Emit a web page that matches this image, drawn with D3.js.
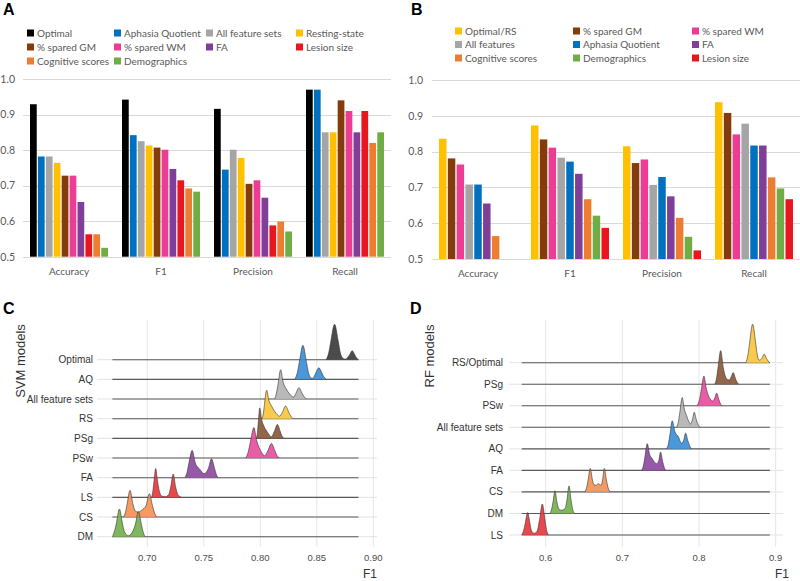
<!DOCTYPE html>
<meta charset="utf-8">
<style>
body { margin: 0; background: #fff; }
svg { display: block; }
.xl text, .yl text, .lg text { font-family: Lato, "Open Sans", sans-serif; font-size: 10px; fill: #595959; }
.yl text { font-size: 10.5px; }
.gg text { font-family: "Liberation Sans", Arial, sans-serif; }
.letter { font-family: "Liberation Sans", Arial, sans-serif; font-weight: bold; font-size: 16px; fill: #000; }
</style>
<svg width="800" height="581"></svg>
<script src="https://cdn.jsdelivr.net/npm/d3@7"></script>
<script>

var metrics = ["Accuracy", "F1", "Precision", "Recall"];

// panel A : SVM
var seriesA = ["Optimal", "Aphasia Quotient", "All feature sets", "Resting-state", "% spared GM",
               "% spared WM", "FA", "Lesion size", "Cognitive scores", "Demographics"];
var colorsA = ["#000000", "#0070C0", "#A5A5A5", "#FFC000", "#843C0C",
               "#EA3D93", "#7F3F98", "#E8161F", "#ED7D31", "#70AD47"];
var valuesA = [
  [0.929, 0.782, 0.782, 0.764, 0.728, 0.728, 0.654, 0.563, 0.563, 0.525],  // Accuracy
  [0.942, 0.842, 0.825, 0.813, 0.807, 0.801, 0.747, 0.715, 0.692, 0.683],  // F1
  [0.916, 0.745, 0.801, 0.778, 0.705, 0.715, 0.666, 0.588, 0.599, 0.571],  // Precision
  [0.970, 0.970, 0.850, 0.850, 0.940, 0.910, 0.850, 0.910, 0.820, 0.850]   // Recall
];

// panel B : RF
var seriesB = ["Optimal/RS", "% spared GM", "% spared WM", "All features", "Aphasia Quotient",
               "FA", "Cognitive scores", "Demographics", "Lesion size"];
var colorsB = ["#FFC000", "#843C0C", "#EA3D93", "#A5A5A5", "#0070C0",
               "#7F3F98", "#ED7D31", "#70AD47", "#E8161F"];
var valuesB = [
  [0.836, 0.781, 0.764, 0.708, 0.708, 0.655, 0.564, null, null],
  [0.873, 0.834, 0.811, 0.783, 0.772, 0.738, 0.667, 0.621, 0.587],
  [0.815, 0.768, 0.778, 0.707, 0.729, 0.675, 0.615, 0.562, 0.524],
  [0.938, 0.908, 0.848, 0.878, 0.817, 0.817, 0.728, 0.697, 0.667]
];

// panel C : SVM F1 distributions  [F1, scaled density]
var svmModels = ["Optimal", "AQ", "All feature sets", "RS", "PSg", "PSw", "FA", "LS", "CS", "DM"];
var svmColors = ["#3c3c3c", "#3b8ed6", "#b3b3b3", "#f9c53c", "#8a583a", "#e64f9d", "#8d4b9f", "#e73a3e", "#f39356", "#76b14e"];
var svmDensity = [
  [[0.8583,0],[0.8606,0.36],[0.8623,0.90],[0.8657,1.80],[0.8691,0.90],[0.8708,0.36],[0.8732,0.06],[0.8754,0.03],[0.8788,0.23],[0.8813,0.46],[0.8838,0.23],[0.8852,0.09],[0.8869,0]],
  [[0.8306,0],[0.8328,0.35],[0.8345,0.86],[0.8377,1.73],[0.8409,0.86],[0.8426,0.35],[0.8447,0.08],[0.8465,0.05],[0.8489,0.30],[0.8518,0.59],[0.8547,0.30],[0.8563,0.12],[0.8583,0]],
  [[0.8127,0],[0.8143,0.30],[0.8157,0.75],[0.8180,1.49],[0.8200,0.90],[0.8230,0.51],[0.8260,0.25],[0.8295,0.10],[0.8315,0.29],[0.8342,0.58],[0.8370,0.29],[0.8387,0.12],[0.8407,0]],
  [[0.8015,0],[0.8028,0.29],[0.8037,0.73],[0.8056,1.45],[0.8075,0.95],[0.8098,0.66],[0.8130,0.35],[0.8171,0.13],[0.8195,0.32],[0.8224,0.64],[0.8253,0.32],[0.8270,0.13],[0.8289,0]],
  [[0.7966,0],[0.7975,0.31],[0.7982,0.78],[0.7995,1.55],[0.8012,0.95],[0.8033,0.61],[0.8065,0.30],[0.8098,0.08],[0.8125,0.36],[0.8151,0.71],[0.8176,0.36],[0.8190,0.14],[0.8207,0]],
  [[0.7871,0],[0.7893,0.31],[0.7911,0.78],[0.7944,1.55],[0.7965,0.95],[0.7989,0.54],[0.8015,0.25],[0.8039,0.12],[0.8067,0.37],[0.8098,0.74],[0.8129,0.37],[0.8145,0.15],[0.8165,0]],
  [[0.7333,0],[0.7352,0.28],[0.7367,0.70],[0.7397,1.39],[0.7425,0.75],[0.7465,0.43],[0.7503,0.20],[0.7541,0.48],[0.7568,0.96],[0.7595,0.48],[0.7609,0.19],[0.7627,0]],
  [[0.7039,0],[0.7050,0.35],[0.7060,0.85],[0.7074,1.47],[0.7090,0.85],[0.7105,0.35],[0.7125,0.08],[0.7156,0.03],[0.7190,0.15],[0.7208,0.55],[0.7229,1.19],[0.7250,0.55],[0.7270,0.15],[0.7304,0]],
  [[0.6788,0],[0.6808,0.27],[0.6822,0.68],[0.6847,1.36],[0.6872,0.68],[0.6895,0.30],[0.6921,0.25],[0.6950,0.35],[0.6990,0.60],[0.7018,1.19],[0.7045,0.60],[0.7062,0.24],[0.7083,0]],
  [[0.6691,0],[0.6710,0.28],[0.6727,0.70],[0.6753,1.41],[0.6779,0.70],[0.6796,0.28],[0.6832,0.05],[0.6870,0.26],[0.6895,0.64],[0.6921,1.28],[0.6947,0.64],[0.6962,0.26],[0.6980,0]]
];
var svmTicks = [0.70, 0.75, 0.80, 0.85, 0.90];

// panel D : RF F1 distributions
var rfModels = ["RS/Optimal", "PSg", "PSw", "All feature sets", "AQ", "FA", "CS", "DM", "LS"];
var rfColors = ["#f9c53c", "#8a583a", "#e64f9d", "#b3b3b3", "#3b8ed6", "#8d4b9f", "#f39356", "#76b14e", "#e73a3e"];
var rfDensity = [
  [[0.8611,0],[0.8638,0.36],[0.8659,0.90],[0.8699,1.79],[0.8739,0.90],[0.8760,0.36],[0.8785,0.12],[0.8820,0.20],[0.8850,0.40],[0.8880,0.20],[0.8900,0.08],[0.8924,0]],
  [[0.8207,0],[0.8230,0.31],[0.8248,0.78],[0.8282,1.56],[0.8316,0.78],[0.8340,0.40],[0.8370,0.22],[0.8394,0.20],[0.8420,0.35],[0.8446,0.54],[0.8475,0.27],[0.8495,0.10],[0.8516,0]],
  [[0.7977,0],[0.8005,0.28],[0.8027,0.69],[0.8064,1.38],[0.8092,0.85],[0.8120,0.50],[0.8150,0.30],[0.8177,0.22],[0.8205,0.35],[0.8230,0.59],[0.8258,0.30],[0.8276,0.12],[0.8295,0]],
  [[0.7708,0],[0.7732,0.28],[0.7749,0.69],[0.7781,1.38],[0.7808,0.85],[0.7838,0.54],[0.7865,0.28],[0.7890,0.16],[0.7915,0.38],[0.7937,0.70],[0.7965,0.35],[0.7988,0.12],[0.8012,0]],
  [[0.7578,0],[0.7602,0.26],[0.7620,0.65],[0.7651,1.30],[0.7685,0.80],[0.7729,0.57],[0.7773,0.26],[0.7800,0.40],[0.7825,0.73],[0.7855,0.37],[0.7880,0.12],[0.7904,0]],
  [[0.7252,0],[0.7276,0.25],[0.7294,0.62],[0.7325,1.24],[0.7355,0.75],[0.7390,0.54],[0.7420,0.38],[0.7447,0.31],[0.7474,0.45],[0.7499,0.85],[0.7525,0.42],[0.7545,0.15],[0.7565,0]],
  [[0.6512,0],[0.6535,0.22],[0.6553,0.55],[0.6581,1.09],[0.6610,0.55],[0.6630,0.33],[0.6656,0.31],[0.6686,0.38],[0.6721,0.31],[0.6740,0.50],[0.6764,1.09],[0.6792,0.55],[0.6815,0.18],[0.6838,0]],
  [[0.6056,0],[0.6078,0.21],[0.6095,0.52],[0.6121,1.05],[0.6147,0.52],[0.6170,0.22],[0.6209,0.15],[0.6252,0.23],[0.6278,0.64],[0.6304,1.28],[0.6330,0.64],[0.6350,0.22],[0.6373,0]],
  [[0.5687,0],[0.5712,0.21],[0.5732,0.52],[0.5765,1.04],[0.5795,0.52],[0.5815,0.20],[0.5851,0.08],[0.5890,0.20],[0.5920,0.72],[0.5956,1.44],[0.5990,0.72],[0.6010,0.25],[0.6034,0]]
];
var rfTicks = [0.6, 0.7, 0.8, 0.9];

var svg = d3.select("svg");

function barPanel(o) {
  var g = svg.append("g");
  var x0 = d3.scaleBand().domain(metrics).range([o.left, o.right]);
  var x1 = d3.scaleBand().domain(o.series).range([7, 85]).paddingInner(0.15);
  var y = d3.scaleLinear().domain([0.5, 1]).range([o.bottom, o.top]);
  var color = d3.scaleOrdinal().domain(o.series).range(o.colors);

  g.append("g").selectAll("line").data(y.ticks(5)).join("line")
      .attr("x1", o.left).attr("x2", o.right)
      .attr("y1", function(d) { return Math.round(y(d)) + 0.5; })
      .attr("y2", function(d) { return Math.round(y(d)) + 0.5; })
      .attr("stroke", "#d9d9d9");

  var ya = g.append("g").attr("class", "yl")
      .attr("transform", "translate(" + o.labelX + ",0)")
      .call(d3.axisLeft(y).ticks(5).tickFormat(d3.format(".1f")).tickSize(0).tickPadding(0));
  ya.select(".domain").remove();

  var xa = g.append("g").attr("class", "xl")
      .attr("transform", "translate(0," + o.bottom + ")")
      .call(d3.axisBottom(x0).tickSize(0).tickPadding(11));
  xa.select(".domain").remove();

  metrics.forEach(function(m, i) {
    g.append("g").selectAll("rect")
      .data(o.values[i].map(function(v, j) { return {s: o.series[j], v: v}; })
                       .filter(function(d) { return d.v != null; }))
      .join("rect")
      .attr("x", function(d) { return x0(m) + x1(d.s); })
      .attr("width", x1.bandwidth())
      .attr("y", function(d) { return y(d.v); })
      .attr("height", function(d) { return y(0.5) - y(d.v); })
      .attr("fill", function(d) { return color(d.s); });
  });

  var lg = g.append("g").attr("class", "lg").selectAll("g").data(o.series).join("g")
      .attr("transform", function(d, i) {
        return "translate(" + o.legX[i % o.legX.length] + "," + o.legY[Math.floor(i / o.legX.length)] + ")";
      });
  lg.append("rect").attr("x", 0).attr("y", -3.5).attr("width", 7).attr("height", 7)
      .attr("fill", function(d) { return color(d); });
  lg.append("text").attr("x", 10).attr("dy", "0.35em").text(function(d) { return d; });
}

function ridgePanel(o) {
  var g = svg.append("g").attr("class", "gg");
  var x = d3.scaleLinear().domain(o.xDomain).range(o.xRange);
  var y = d3.scalePoint().domain(o.models).range([o.top, o.bottom]);
  var h = d3.scaleLinear().domain([0, 1]).range([0, y.step()]);
  var all = d3.merge(o.density);
  var lo = d3.min(all, function(d) { return d[0]; }),
      hi = d3.max(all, function(d) { return d[0]; });

  g.append("g").selectAll("line").data(o.ticks).join("line")
      .attr("x1", function(d) { return x(d); }).attr("x2", function(d) { return x(d); })
      .attr("y1", o.gridTop).attr("y2", o.gridBottom)
      .attr("stroke", "#e6e6e6").attr("stroke-width", 1);

  g.append("g").selectAll("line").data(o.models).join("line")
      .attr("x1", o.panel[0]).attr("x2", o.panel[1])
      .attr("y1", function(d) { return y(d); }).attr("y2", function(d) { return y(d); })
      .attr("stroke", "#e3e3e3").attr("stroke-width", 1);

  var area = d3.area().curve(d3.curveMonotoneX)
      .x(function(d) { return x(d[0]); }).y0(0).y1(function(d) { return -h(d[1]); });
  var line = d3.line().curve(d3.curveMonotoneX)
      .x(function(d) { return x(d[0]); }).y(function(d) { return -h(d[1]); });

  o.models.forEach(function(m, i) {
    var r = g.append("g").attr("transform", "translate(0," + y(m) + ")");
    r.append("line").attr("x1", x(lo)).attr("x2", x(hi))
        .attr("stroke", "#5a5a5a").attr("stroke-width", 1.1);
    r.append("path").attr("d", area(o.density[i]))
        .attr("fill", o.colors[i]).attr("fill-opacity", 0.92);
    r.append("path").attr("d", line(o.density[i]))
        .attr("fill", "none").attr("stroke", "#333").attr("stroke-width", 0.6);
  });

  g.append("g").selectAll("text").data(o.models).join("text")
      .attr("x", o.labelX).attr("y", function(d) { return y(d); })
      .attr("dy", "0.35em").attr("text-anchor", "end")
      .style("font-size", "10px").style("fill", "#333")
      .text(function(d) { return d; });

  g.append("g").selectAll("text").data(o.ticks).join("text")
      .attr("x", function(d) { return x(d); }).attr("y", 558)
      .attr("dy", "0.35em").attr("text-anchor", "middle")
      .style("font-size", "9.5px").style("fill", "#4d4d4d")
      .text(o.tickFormat);

  g.append("text").attr("x", o.panel[1] + o.titleDx).attr("y", 574).attr("dy", "0.35em")
      .attr("text-anchor", "end").style("font-size", "12px").style("fill", "#333").text("F1");

  g.append("text")
      .attr("transform", "translate(" + o.yTitle[0] + "," + o.yTitle[1] + ") rotate(-90)")
      .attr("dy", "0.35em").attr("text-anchor", "middle")
      .style("font-size", "13px").style("fill", "#333").text(o.yLabel);
}

barPanel({series: seriesA, colors: colorsA, values: valuesA,
  left: 23, right: 391, top: 79, bottom: 256.7, labelX: 15,
  legX: [27, 114, 206, 296], legY: [33, 47, 61]});

barPanel({series: seriesB, colors: colorsB, values: valuesB,
  left: 432, right: 800, top: 80, bottom: 259, labelX: 423,
  legX: [455, 573, 692], legY: [31, 44.5, 58]});

ridgePanel({models: svmModels, colors: svmColors, density: svmDensity, ticks: svmTicks,
  xDomain: [0.70, 0.90], xRange: [147.3, 373.3], panel: [97, 377],
  top: 359.7, bottom: 536.7, gridTop: 320, gridBottom: 547, labelX: 93,
  tickFormat: d3.format(".2f"), titleDx: 0, yTitle: [20, 361], yLabel: "SVM models"});

ridgePanel({models: rfModels, colors: rfColors, density: rfDensity, ticks: rfTicks,
  xDomain: [0.6, 0.9], xRange: [545.7, 775.7], panel: [509, 783],
  top: 362.7, bottom: 535, gridTop: 320, gridBottom: 547, labelX: 503,
  tickFormat: d3.format(".1f"), titleDx: 6, yTitle: [429, 356], yLabel: "RF models"});

svg.append("text").attr("class", "letter").attr("x", 3).attr("y", 15).text("A");
svg.append("text").attr("class", "letter").attr("x", 411).attr("y", 15).text("B");
svg.append("text").attr("class", "letter").attr("x", 3).attr("y", 314).text("C");
svg.append("text").attr("class", "letter").attr("x", 410).attr("y", 314).text("D");

</script>
